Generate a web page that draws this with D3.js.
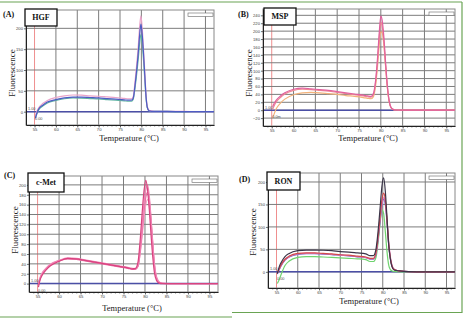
<!DOCTYPE html>
<html>
<head>
<meta charset="utf-8">
<script src="https://cdn.jsdelivr.net/npm/d3@7"></script>
<style>
  body { margin: 0; background: #fff; }
  svg { display: block; }
</style>
</head>
<body>
<svg id="fig" width="465" height="319"></svg>
<script>
// ---- data ----
var xTicks = [55, 60, 65, 70, 75, 80, 85, 90, 95];

var yTicksA = [0, 50, 100, 150, 200];
var yTicksB = [-20, 0, 20, 40, 60, 80, 100, 120, 140, 160, 180, 200, 220, 240];
var yTicksC = [0, 20, 40, 60, 80, 100, 120, 140, 160, 180, 200];
var yTicksD = [0, 50, 100, 150, 200];

// (A) HGF
var tempsA = [55.2, 55.6, 56, 57, 58, 60, 62, 64, 66, 68, 70, 72, 74, 76, 77, 77.7, 78.1, 78.5, 78.9, 79.3, 79.6, 79.9, 80.2, 80.5, 80.8, 81.1, 81.4, 81.8, 83, 86, 90, 95, 97];
var hgfPink  = [-10, 2, 10, 20, 27, 34, 38, 40, 39.5, 38, 37, 35.5, 34, 32, 31, 31, 36, 70, 112, 160, 205, 230, 200, 150, 95, 40, 12, 3, 1, 1, 0.5, 0, 0];
var hgfGreen = [-14, -4, 5, 14, 21, 27, 31, 33, 32.5, 31.5, 30.5, 29, 27.5, 26, 25, 25, 30, 56, 90, 130, 165, 185, 165, 125, 78, 32, 9, 2, 0.5, 0.5, 0, 0, 0];
var hgfBlue  = [-16, -2, 7, 16, 23, 29, 33, 35, 35, 34, 33, 31.5, 30, 28.5, 27.5, 27.5, 33, 62, 100, 145, 185, 210, 185, 140, 88, 36, 10, 2, 0.5, 0.5, 0, 0, 0];

// (B) MSP
var tempsB = [55.2, 55.6, 56, 57, 58, 60, 62, 64, 66, 68, 70, 72, 74, 76, 77, 77.8, 78.3, 78.8, 79.2, 79.6, 80, 80.3, 80.7, 81.1, 81.5, 81.9, 82.3, 82.8, 83.5, 86, 90, 95, 97];
var mspOrange  = [-20, -8, 3, 18, 28, 39, 44, 45, 44, 42, 40, 37, 35, 32, 30, 29, 34, 62, 105, 160, 198, 196, 165, 110, 56, 22, 7, 2, 0.5, 0, 0, 0, 0];
var mspSalmon  = [2, 12, 20, 32, 41, 50, 53, 52, 50, 48, 45, 42, 39, 36, 34, 33, 39, 70, 117, 178, 222, 212, 172, 112, 58, 23, 7, 2, 0.5, 0, 0, 0, 0];
var mspMagenta = [9, 18, 25, 36, 44, 53, 56, 54, 52, 50, 47, 44, 41, 38, 36, 35, 42, 75, 125, 190, 238, 228, 185, 120, 62, 25, 8, 2, 0.5, 0, 0, 0, 0];

// (C) c-Met
var tempsC = [55.2, 55.6, 56, 57, 58, 60, 62, 64, 66, 68, 70, 72, 74, 76, 77, 77.8, 78.4, 78.9, 79.4, 79.8, 80.2, 80.6, 81, 81.4, 81.8, 82.2, 82.7, 83.3, 84, 86, 90, 95, 97];
var cmetLight = [2, 13, 21, 32, 40, 47, 50, 49, 47, 44, 41, 38, 35, 32, 30, 30, 36, 62, 100, 135, 160, 170, 160, 125, 80, 40, 14, 4, 1, 0, 0, 0, 0];
var cmetRose  = [-3, 10, 18, 30, 38, 46, 50, 49, 46, 43, 40, 37, 34, 31, 29, 29, 35, 65, 110, 148, 175, 185, 170, 130, 82, 38, 11, 2, 0.5, 0, 0, 0, 0];
var cmetPink  = [0, 12, 20, 31, 39, 47, 52, 51, 48, 45, 42, 39, 36, 33, 31, 30, 38, 72, 122, 165, 190, 200, 178, 135, 85, 40, 12, 3, 0.5, 0, 0, 0, 0];
var cmetRed   = [-7, 8, 16, 28, 36, 45, 51, 50, 47, 44, 41, 38, 35, 32, 30, 31, 45, 90, 150, 190, 209, 190, 150, 100, 55, 22, 6, 1, 0, 0, 0, 0, 0];

// (D) RON
var tempsD = [55.2, 55.6, 56, 57, 58, 60, 62, 64, 66, 68, 70, 72, 74, 76, 77, 77.8, 78.4, 78.9, 79.4, 79.8, 80.2, 80.6, 81, 81.4, 81.8, 82.2, 82.7, 83.3, 84, 86, 90, 95, 97];
var ronGreen = [-26, -18, -8, 14, 24, 32, 34, 34, 33, 32, 31, 30, 29, 27, 23, 23, 32, 65, 110, 138, 130, 90, 45, 15, 5, 2, 1, 0.5, 0, 0, 0, 0, 0];
var ronBlue  = [-5, 4, 12, 26, 33, 39, 40.5, 40.5, 39.5, 38.5, 37, 35.5, 33.5, 31.5, 28.5, 28.5, 39, 72, 115, 148, 162, 150, 110, 60, 29, 12, 5, 3, 2, 0.5, 0, 0, 0];
var ronPink  = [-3, 5, 13, 27, 34, 40, 41, 41, 40, 39, 37, 36, 34, 32, 29, 29, 40, 74, 118, 150, 165, 155, 118, 68, 33, 14, 6, 3, 2, 0.5, 0, 0, 0];
var ronRed   = [-2, 6, 14, 28, 35, 41, 42, 42, 41, 40, 38, 37, 35, 33, 30, 30, 42, 78, 125, 160, 175, 160, 115, 62, 30, 12, 5, 3, 2, 0.5, 0, 0, 0];
var ronDark  = [-4, 10, 19, 34, 41, 47, 48.5, 48.5, 48, 47, 45, 44, 42, 40, 36, 36, 50, 90, 145, 190, 209, 180, 120, 60, 28, 11, 4, 3, 2, 0.5, 0, 0, 0];

// ---- layout ----
var panels = [
  { tag: '(A)', tagAt: [3, 17], name: 'HGF', nameBox: [25, 9, 32, 17],
    plot: [26, 10, 214, 125], yDomain: [-32, 244], yTicks: yTicksA,
    yTitleAt: [12, 73], xTitleAt: [129, 141], low: '0.00',
    temps: tempsA,
    series: [[hgfGreen, '#5fb3a2'], [hgfPink, '#e9a3c9'], [hgfBlue, '#4f5bc4']] },
  { tag: '(B)', tagAt: [238, 17], name: 'MSP', nameBox: [264, 8, 32, 17],
    plot: [263, 9, 455, 126], yDomain: [-40, 256], yTicks: yTicksB,
    yTitleAt: [249, 73], xTitleAt: [368, 141], low: '0.0m',
    temps: tempsB,
    series: [[mspOrange, '#f2b27a'], [mspSalmon, '#f08a94'], [mspMagenta, '#e0609e']] },
  { tag: '(C)', tagAt: [4, 178], name: 'c-Met', nameBox: [28, 173, 36, 19],
    plot: [29, 176, 218, 292], yDomain: [-17, 218], yTicks: yTicksC,
    yTitleAt: [15, 230], xTitleAt: [132, 311], low: '0.00',
    temps: tempsC,
    series: [[cmetLight, '#f4a9c9'], [cmetRose, '#ea6fa5'], [cmetPink, '#f084b4'], [cmetRed, '#d9437f']] },
  { tag: '(D)', tagAt: [239, 182], name: 'RON', nameBox: [267, 172, 33, 18],
    plot: [268, 173, 455, 288], yDomain: [-36, 220], yTicks: yTicksD,
    yTitleAt: [253, 232], xTitleAt: [369, 304], low: '0.00',
    temps: tempsD,
    series: [[ronGreen, '#6fd36f'], [ronBlue, '#5a5ac4'], [ronPink, '#e07cc4'], [ronRed, '#d24b4b'], [ronDark, '#3a3448']] }
];

var svg = d3.select('#fig');
svg.append('rect').attr('width', 465).attr('height', 319).attr('fill', '#fff');

var serif = '"Liberation Serif", "DejaVu Serif", serif';
var sans = '"Liberation Sans", "DejaVu Sans", sans-serif';

panels.forEach(function (p, i) {
  var g = svg.append('g'),
    x = d3.scaleLinear().domain([53, 97]).range([p.plot[0], p.plot[2]]),
    y = d3.scaleLinear().domain(p.yDomain).range([p.plot[3], p.plot[1]]);

  g.append('clipPath').attr('id', 'clip' + i)
    .append('rect')
    .attr('x', p.plot[0]).attr('y', p.plot[1])
    .attr('width', p.plot[2] - p.plot[0]).attr('height', p.plot[3] - p.plot[1]);

  // grid
  g.selectAll('.vg').data(xTicks).enter().append('line')
    .attr('x1', function (d) { return x(d); }).attr('x2', function (d) { return x(d); })
    .attr('y1', p.plot[1]).attr('y2', p.plot[3])
    .attr('stroke', function (d) { return d === 55 ? '#ef8f8f' : '#7c7c7c'; })
    .attr('stroke-width', 1);
  g.selectAll('.hg').data(p.yTicks).enter().append('line')
    .attr('x1', p.plot[0]).attr('x2', p.plot[2])
    .attr('y1', function (d) { return y(d); }).attr('y2', function (d) { return y(d); })
    .attr('stroke', '#7c7c7c').attr('stroke-width', 1);

  g.append('rect')
    .attr('x', p.plot[0]).attr('y', p.plot[1])
    .attr('width', p.plot[2] - p.plot[0]).attr('height', p.plot[3] - p.plot[1])
    .attr('fill', 'none').attr('stroke', '#888').attr('stroke-width', 1);

  // baseline at zero
  g.append('line')
    .attr('x1', p.plot[0]).attr('x2', p.plot[2])
    .attr('y1', y(0)).attr('y2', y(0))
    .attr('stroke', '#4b4fa6').attr('stroke-width', 1.5);

  // melt curves
  var line = d3.line()
    .x(function (d, k) { return x(p.temps[k]); })
    .y(function (d) { return y(d); })
    .curve(d3.curveMonotoneX);

  g.append('g').attr('clip-path', 'url(#clip' + i + ')')
    .selectAll('path').data(p.series).enter().append('path')
    .attr('d', function (s) { return line(s[0]); })
    .attr('fill', 'none')
    .attr('stroke', function (s) { return s[1]; })
    .attr('stroke-width', 1.2);

  // axes
  var minor = g.append('g').attr('transform', 'translate(0,' + p.plot[3] + ')')
    .call(d3.axisBottom(x).tickValues(d3.range(54, 97, 1)).tickSize(1.5).tickSizeOuter(0).tickFormat(''));
  minor.select('.domain').remove();
  minor.selectAll('line').attr('stroke', '#444').attr('stroke-width', 0.7);

  var xa = g.append('g').attr('transform', 'translate(0,' + p.plot[3] + ')')
    .call(d3.axisBottom(x).tickValues(xTicks).tickSize(2.5).tickSizeOuter(0).tickPadding(0.8));
  xa.select('.domain').attr('stroke', '#222').attr('stroke-width', 1);
  xa.selectAll('line').attr('stroke', '#333').attr('stroke-width', 0.7);
  xa.selectAll('text').attr('font-size', 4.2).attr('font-family', sans).attr('fill', '#444');

  var ya = g.append('g').attr('transform', 'translate(' + p.plot[0] + ',0)')
    .call(d3.axisLeft(y).tickValues(p.yTicks).tickSize(2).tickSizeOuter(0).tickPadding(1));
  ya.select('.domain').attr('stroke', '#222').attr('stroke-width', 1);
  ya.selectAll('line').attr('stroke', '#333').attr('stroke-width', 0.7);
  ya.selectAll('text').attr('font-size', 4.2).attr('font-family', sans).attr('fill', '#444');

  // threshold marks near start
  g.append('text').attr('x', p.plot[0] + 2).attr('y', y(0) - 1.5)
    .attr('font-size', 3.8).attr('font-family', sans).attr('fill', '#555').text('1.00');
  g.append('text').attr('x', x(55) + 0.5).attr('y', y(0) + 8)
    .attr('font-size', 3.8).attr('font-family', sans).attr('fill', '#555').text(p.low);

  // small key box top right
  g.append('rect')
    .attr('x', p.plot[2] - 26).attr('y', p.plot[1] + 3)
    .attr('width', 25).attr('height', 3.5)
    .attr('fill', '#fff').attr('stroke', '#666').attr('stroke-width', 0.6);

  // titles
  g.append('text')
    .attr('transform', 'translate(' + p.yTitleAt[0] + ',' + p.yTitleAt[1] + ') rotate(-90)')
    .attr('text-anchor', 'middle').attr('dominant-baseline', 'central')
    .attr('font-size', 9).attr('font-family', serif).attr('fill', '#222')
    .text('Fluorescence');
  g.append('text')
    .attr('x', p.xTitleAt[0]).attr('y', p.xTitleAt[1])
    .attr('text-anchor', 'middle')
    .attr('font-size', 8.5).attr('font-family', serif).attr('fill', '#222')
    .text('Temperature (\u00B0C)');

  // panel letter and gene box
  g.append('text').attr('x', p.tagAt[0]).attr('y', p.tagAt[1])
    .attr('font-size', 8).attr('font-weight', 'bold').attr('font-family', serif).attr('fill', '#111')
    .text(p.tag);
  g.append('rect')
    .attr('x', p.nameBox[0]).attr('y', p.nameBox[1])
    .attr('width', p.nameBox[2]).attr('height', p.nameBox[3])
    .attr('fill', '#fff').attr('stroke', '#111').attr('stroke-width', 1.3);
  g.append('text')
    .attr('x', p.nameBox[0] + p.nameBox[2] / 2).attr('y', p.nameBox[1] + p.nameBox[3] / 2)
    .attr('text-anchor', 'middle').attr('dominant-baseline', 'central')
    .attr('font-size', 8).attr('font-weight', 'bold').attr('font-family', serif).attr('fill', '#111')
    .text(p.name);
});

// green figure frame
var frame = svg.append('g').attr('stroke', '#6aa454').attr('stroke-width', 1.2).attr('fill', 'none');
frame.append('line').attr('x1', 0).attr('x2', 462).attr('y1', 2).attr('y2', 2);
frame.append('line').attr('x1', 462).attr('x2', 462).attr('y1', 2).attr('y2', 313);
frame.append('line').attr('x1', 232).attr('x2', 462).attr('y1', 312.5).attr('y2', 312.5);
frame.append('line').attr('x1', 0).attr('x2', 232).attr('y1', 317).attr('y2', 317);
</script>
</body>
</html>
